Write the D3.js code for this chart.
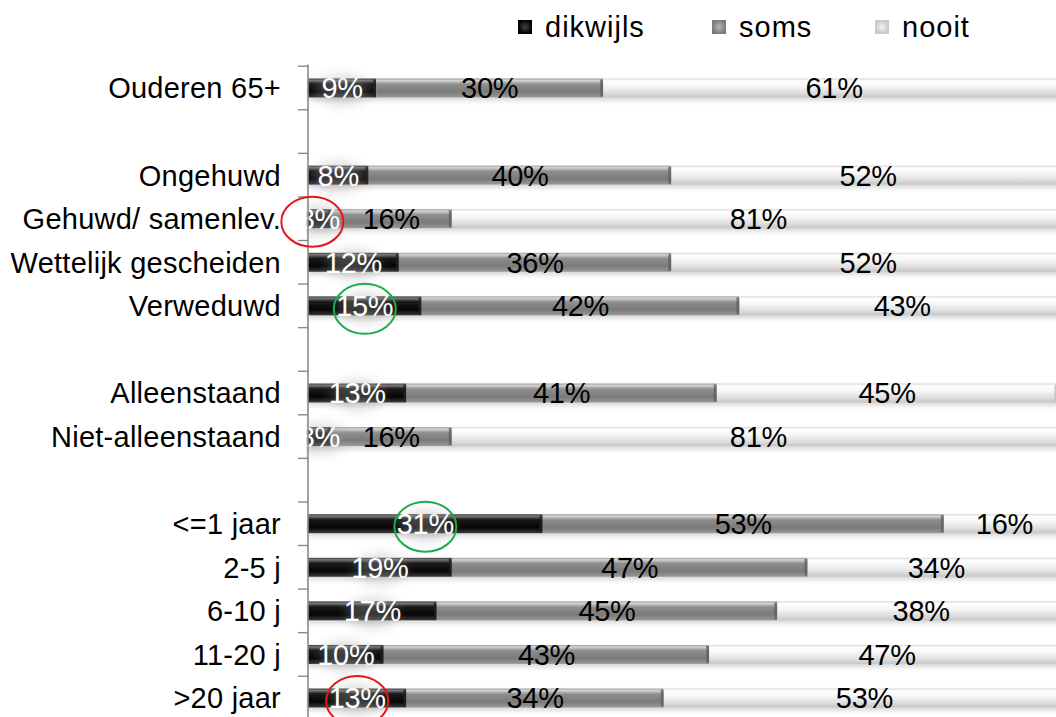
<!DOCTYPE html>
<html><head><meta charset="utf-8">
<script src="https://cdn.jsdelivr.net/npm/d3@7"></script>
<style>
html,body{margin:0;padding:0;background:#fff;}
text{font-family:"Liberation Sans",Arial,Helvetica,sans-serif;}
</style></head>
<body>
<svg id="chart" width="1056" height="717"></svg>
<script>
// ---- data ----
const categories = ["Ouderen 65+", null, "Ongehuwd", "Gehuwd/ samenlev.", "Wettelijk gescheiden", "Verweduwd", null,
  "Alleenstaand", "Niet-alleenstaand", null, "<=1 jaar", "2-5 j", "6-10 j", "11-20 j", ">20 jaar"];
const seriesNames = ["dikwijls", "soms", "nooit"];
const dikwijls = [9, null, 8, 3, 12, 15, null, 13, 3, null, 31, 19, 17, 10, 13];
const soms     = [30, null, 40, 16, 36, 42, null, 41, 16, null, 53, 47, 45, 43, 34];
const nooit    = [61, null, 52, 81, 52, 43, null, 45, 81, null, 16, 34, 38, 47, 53];
// highlighted labels: [row index, series index, colour]
const highlights = [[3, 0, "red"], [5, 0, "green"], [10, 0, "green"], [14, 0, "red"]];

const values = [dikwijls, soms, nooit];
const svg = d3.select("#chart");
const W = 1056, H = 717;
const FS = 29;

const x = d3.scaleLinear().domain([0, 100]).range([308, 1065]);
const y = d3.scaleBand().domain(d3.range(categories.length)).range([66.2, 719.8]).paddingInner(0.565).paddingOuter(0.2825);
const bw = y.bandwidth(), step = y.step();

const defs = svg.append("defs");
const grads = [
  [["0", "#3a3a3a"], ["0.1", "#7a7a7a"], ["0.28", "#1a1a1a"], ["0.7", "#050505"], ["1", "#3a3a3a"]],
  [["0", "#9a9a9a"], ["0.1", "#d4d4d4"], ["0.3", "#8e8e8e"], ["0.7", "#7a7a7a"], ["1", "#9a9a9a"]],
  [["0", "#d8d8d8"], ["0.12", "#ffffff"], ["0.4", "#f6f6f6"], ["0.75", "#dedede"], ["1", "#c6c6c6"]]
];
grads.forEach((stops, i) => {
  const g = defs.append("linearGradient").attr("id", "g" + i).attr("x1", 0).attr("y1", 0).attr("x2", 0).attr("y2", 1);
  stops.forEach(s => g.append("stop").attr("offset", s[0]).attr("stop-color", s[1]));
});
const lg = [["#000", "#444"], ["#7a7a7a", "#b8b8b8"], ["#c8c8c8", "#f2f2f2"]];
lg.forEach((c, i) => {
  const g = defs.append("radialGradient").attr("id", "lg" + i);
  g.append("stop").attr("offset", "0").attr("stop-color", c[1]);
  g.append("stop").attr("offset", "1").attr("stop-color", c[0]);
});
const f = defs.append("filter").attr("id", "halo").attr("x", "-50%").attr("y", "-50%").attr("width", "200%").attr("height", "200%");
f.append("feGaussianBlur").attr("stdDeviation", 6);
const fs = defs.append("filter").attr("id", "shadow").attr("x", "-5%").attr("y", "-50%").attr("width", "110%").attr("height", "250%");
fs.append("feGaussianBlur").attr("stdDeviation", 2.5);
defs.append("clipPath").attr("id", "plot").append("rect").attr("x", 306).attr("y", 0).attr("width", W).attr("height", H);

// ---- stacked data ----
const rows = categories.map((c, i) => ({i, c, v: values.map(a => a[i])})).filter(r => r.c !== null);

const plot = svg.append("g").attr("clip-path", "url(#plot)");

// shadows
plot.selectAll("rect.sh").data(rows).join("rect").attr("class", "sh")
  .attr("x", x(0)).attr("y", d => y(d.i) + 3).attr("width", x(100) - x(0)).attr("height", bw)
  .attr("fill", "#000").attr("opacity", 0.16).attr("filter", "url(#shadow)");

rows.forEach(r => {
  let acc = 0;
  r.cx = [];
  r.v.forEach((v, s) => {
    const x0 = x(acc), x1 = x(acc + v);
    plot.append("rect").attr("x", x0).attr("y", y(r.i)).attr("width", x1 - x0).attr("height", bw).attr("fill", `url(#g${s})`);
    // bevel at segment end
    plot.append("rect").attr("x", x1 - 3).attr("y", y(r.i) + 1).attr("width", 3).attr("height", bw - 2)
      .attr("fill", s === 0 ? "#222" : s === 1 ? "#5f5f5f" : "#bcbcbc").attr("opacity", 0.8);
    r.cx[s] = (x0 + x1) / 2;
    acc += v;
  });
});

// labels
rows.forEach(r => {
  r.v.forEach((v, s) => {
    const cy = y(r.i) + bw / 2;
    if (s === 0) {
      plot.append("ellipse").attr("cx", r.cx[s]).attr("cy", cy + 2).attr("rx", 26).attr("ry", 15)
        .attr("fill", "#999").attr("opacity", 0.35).attr("filter", "url(#halo)");
    }
    plot.append("text").attr("x", r.cx[s]).attr("y", cy)
      .attr("text-anchor", "middle").attr("dy", "0.36em").attr("font-size", FS)
      .attr("letter-spacing", -0.3)
      .attr("fill", s === 0 ? "#fff" : "#000").text(v + "%");
  });
});

// axis line and ticks
svg.append("line").attr("x1", 308).attr("x2", 308).attr("y1", 64.5).attr("y2", H)
  .attr("stroke", "#8a8a8a").attr("stroke-width", 1.6);
const bounds = d3.range(categories.length + 1).map(i => y.range()[0] + i * step);
svg.selectAll("line.tk").data(bounds).join("line").attr("class", "tk")
  .attr("x1", 298).attr("x2", 308).attr("y1", d => d).attr("y2", d => d)
  .attr("stroke", "#8a8a8a").attr("stroke-width", 1.4);

// category labels
svg.selectAll("text.cat").data(rows).join("text").attr("class", "cat")
  .attr("x", 281).attr("y", d => y(d.i) + bw / 2)
  .attr("text-anchor", "end").attr("dy", "0.36em").attr("font-size", FS).attr("letter-spacing", 0.25)
  .attr("fill", "#000").text(d => d.c);

// legend
const legX = [518, 712, 875];
seriesNames.forEach((n, i) => {
  svg.append("rect").attr("x", legX[i]).attr("y", 20).attr("width", 14).attr("height", 14).attr("fill", `url(#lg${i})`);
  svg.append("text").attr("x", legX[i] + 27).attr("y", 27)
    .attr("dy", "0.36em").attr("font-size", FS).attr("letter-spacing", 1).attr("fill", "#000").text(n);
});

// highlight ellipses
highlights.forEach(([ri, s, col]) => {
  const r = rows.find(d => d.i === ri);
  svg.append("ellipse").attr("cx", r.cx[s] + (ri === 3 ? -7 : 0)).attr("cy", y(ri) + bw / 2 + 3)
    .attr("rx", 31).attr("ry", 25).attr("fill", "none")
    .attr("stroke", col === "red" ? "#e8141c" : "#19ad49").attr("stroke-width", 2);
});
</script>
</body></html>
